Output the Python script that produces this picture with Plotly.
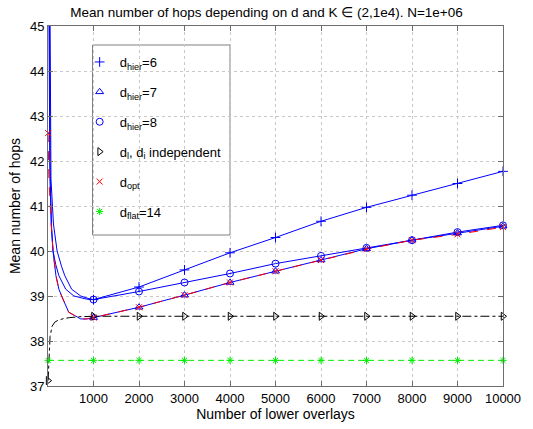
import plotly.graph_objects as go

# ---- data ----
K_marks = [1000, 2000, 3000, 4000, 5000, 6000, 7000, 8000, 9000, 10000]
K_marks_full = [2] + K_marks

hier6_marks = [38.92, 39.20, 39.58, 39.96, 40.30, 40.66, 40.97, 41.24, 41.50, 41.77]
hier7_marks = [38.52, 38.75, 39.02, 39.30, 39.55, 39.80, 40.05, 40.24, 40.40, 40.55]
hier8_marks = [38.92, 39.10, 39.30, 39.50, 39.72, 39.89, 40.07, 40.24, 40.42, 40.57]
opt_marks = [42.62, 38.52, 38.75, 39.02, 39.30, 39.55, 39.80, 40.04, 40.24, 40.37, 40.53]
indep_marks = [37.12, 38.55, 38.55, 38.55, 38.55, 38.55, 38.55, 38.55, 38.55, 38.55, 38.55]
flat_marks = [37.57, 37.57, 37.57, 37.57, 37.57, 37.57, 37.57, 37.57, 37.57, 37.57, 37.57]

# curve shapes at small K
hier6_K_low = [20, 40, 65, 120, 200, 300, 370, 520, 720, 900]
hier6_low = [50.0, 45.2, 41.6, 40.6, 40.0, 39.65, 39.45, 39.15, 39.0, 38.94]
hier8_K_low = [15, 30, 45, 80, 110, 170, 240, 390, 570, 850]
hier8_low = [50.0, 45.0, 41.6, 40.5, 40.0, 39.7, 39.45, 39.15, 39.0, 38.93]
hier7_K_low = [10, 20, 40, 70, 110, 175, 240, 300, 455, 720, 850]
hier7_low = [47.0, 44.0, 42.0, 40.6, 40.0, 39.45, 39.15, 39.0, 38.64, 38.49, 38.49]
opt_K_low = [2, 20, 70, 110, 175, 240, 300, 455, 720, 850]
opt_low = [42.62, 41.6, 40.6, 40.0, 39.45, 39.15, 39.0, 38.64, 38.49, 38.49]
indep_K_low = [2, 20, 45, 90, 150, 220, 350, 480, 700]
indep_low = [37.12, 37.6, 38.1, 38.33, 38.42, 38.46, 38.5, 38.52, 38.54]

legend_names = ["d<sub>hier</sub>=6", "d<sub>hier</sub>=7", "d<sub>hier</sub>=8",
                "d<sub>l</sub>, d<sub>i</sub> independent", "d<sub>opt</sub>",
                "d<sub>flat</sub>=14"]

BLUE = "#0000ff"
RED = "#ff0000"
GREEN = "#00ee00"
BLACK = "#000000"

fig = go.Figure()

def line(xs, ys, color, dash):
    fig.add_trace(go.Scatter(x=xs, y=ys, mode="lines", showlegend=False,
                             line=dict(color=color, width=1, dash=dash),
                             hoverinfo="skip"))

line(hier6_K_low + K_marks, hier6_low + hier6_marks, BLUE, "solid")
line(hier7_K_low + K_marks, hier7_low + hier7_marks, BLUE, "solid")
line(hier8_K_low + K_marks, hier8_low + hier8_marks, BLUE, "solid")
line(indep_K_low + K_marks, indep_low + indep_marks[1:], BLACK, "dashdot")
line(opt_K_low + K_marks, opt_low + opt_marks[1:], RED, "dash")
line(K_marks_full, flat_marks, GREEN, "6px,4px")

def marks(xs, ys, color, symbol, name, grp, size=7):
    fig.add_trace(go.Scatter(x=xs, y=ys, mode="markers", name=name,
                             legendgroup=grp, cliponaxis=False,
                             marker=dict(color=color, symbol=symbol, size=size,
                                         line=dict(color=color, width=1))))

marks(K_marks, hier6_marks, BLUE, "cross-thin", legend_names[0], "a")
marks(K_marks, hier7_marks, BLUE, "triangle-up-open", legend_names[1], "b")
marks(K_marks, hier8_marks, BLUE, "circle-open", legend_names[2], "c")
marks(K_marks_full, indep_marks, BLACK, "triangle-right-open", legend_names[3], "d")
marks(K_marks_full, opt_marks, RED, "x-thin", legend_names[4], "e", size=6)
marks(K_marks_full, flat_marks, GREEN, "asterisk", legend_names[5], "f", size=6)

FONT = "Liberation Sans, Arial, Helvetica, sans-serif"
AX = "#6e6e6e"

W, H = 533, 429
L, R, T, B = 48, 25, 26, 43

fig.add_shape(type="rect", xref="paper", yref="paper",
              x0=(93 - 48) / 460, x1=(232 - 48) / 460,
              y0=(386 - 235) / 360, y1=(386 - 45) / 360,
              line=dict(color="#808080", width=1), fillcolor="white", layer="below")

fig.update_layout(
    width=W, height=H,
    margin=dict(l=L, r=R, t=T, b=B, pad=0),
    paper_bgcolor="white", plot_bgcolor="white",
    font=dict(family=FONT, size=13, color="black"),
    title=dict(text="Mean number of hops depending on d and K \u2208 (2,1e4). N=1e+06",
               x=0.5, xanchor="center", y=1 - 12 / H, yanchor="middle",
               font=dict(size=13.5)),
    legend=dict(x=(80 - 48) / 460, y=(386 - 47) / 360, xanchor="left", yanchor="top",
                bgcolor="rgba(0,0,0,0)", borderwidth=0,
                tracegroupgap=10, font=dict(size=13), itemwidth=30),
    showlegend=True,
    hovermode=False,
)
fig.update_xaxes(range=[0, 10000], tickvals=K_marks, ticktext=[str(k) for k in K_marks],
                 tickfont=dict(size=13),
                 showline=True, linecolor=AX, linewidth=1, mirror="ticks",
                 ticks="inside", ticklen=5, tickcolor=AX,
                 showgrid=True, gridcolor="#c8c8c8", griddash="dot", gridwidth=1,
                 zeroline=False,
                 title=dict(text="Number of lower overlays", standoff=1, font=dict(size=14)))
fig.update_yaxes(range=[37, 45], tickvals=[37, 38, 39, 40, 41, 42, 43, 44, 45],
                 tickfont=dict(size=13),
                 showline=True, linecolor=AX, linewidth=1, mirror="ticks",
                 ticks="inside", ticklen=5, tickcolor=AX,
                 showgrid=True, gridcolor="#c8c8c8", griddash="dot", gridwidth=1,
                 zeroline=False,
                 title=dict(text="Mean number of hops", standoff=6, font=dict(size=14)))

fig.write_html("out.html",
               config={"displayModeBar": False},
               post_script="document.body.style.margin='0';document.body.style.overflow='hidden';")
